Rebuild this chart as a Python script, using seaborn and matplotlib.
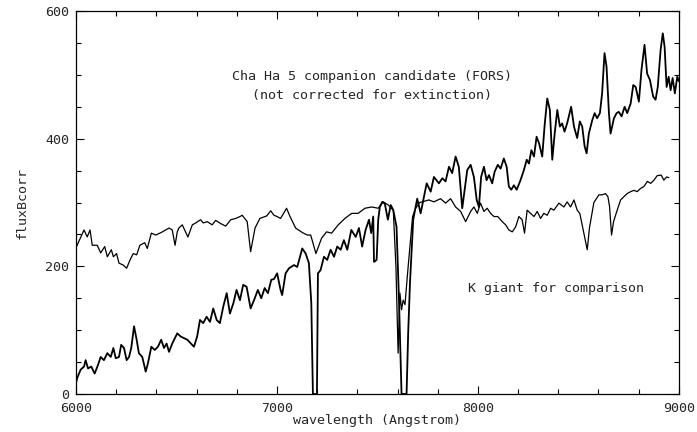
import numpy as np
import pandas as pd
import matplotlib
matplotlib.use("Agg")
import matplotlib.pyplot as plt
import seaborn as sns
from matplotlib.ticker import MultipleLocator


# ======================================================
# DATA
# ======================================================

# Cha Ha 5 companion candidate (FORS)
cand_wave = [
    6000, 6006, 6023, 6040, 6048, 6060, 6076, 6093, 6109, 6123,
    6139, 6156, 6173, 6186, 6198, 6214, 6225, 6239, 6252, 6264,
    6275, 6289, 6302, 6313, 6330, 6347, 6358, 6375, 6392, 6408,
    6424, 6438, 6451, 6463, 6479, 6496, 6504, 6521, 6554, 6587,
    6603, 6617, 6633, 6650, 6667, 6683, 6700, 6716, 6733, 6750,
    6766, 6783, 6799, 6816, 6832, 6849, 6869, 6886, 6905, 6922,
    6939, 6955, 6972, 6985, 7001, 7018, 7026, 7043, 7060, 7085,
    7101, 7126, 7143, 7159, 7171, 7179, 7199, 7204, 7217, 7234,
    7250, 7267, 7284, 7300, 7317, 7333, 7350, 7370, 7392, 7408,
    7424, 7441, 7458, 7469, 7479, 7483, 7496, 7504, 7512, 7524,
    7537, 7552, 7566, 7579, 7595, 7607, 7620, 7645, 7653, 7662,
    7678, 7698, 7715, 7745, 7765, 7781, 7806, 7823, 7839, 7856,
    7872, 7889, 7905, 7922, 7947, 7964, 7980, 7994, 8005, 8016,
    8030, 8043, 8055, 8071, 8083, 8099, 8113, 8129, 8143, 8154,
    8166, 8179, 8193, 8212, 8229, 8243, 8254, 8266, 8279, 8292,
    8304, 8320, 8332, 8345, 8358, 8370, 8382, 8395, 8408, 8419,
    8431, 8444, 8464, 8478, 8494, 8507, 8519, 8531, 8541, 8552,
    8569, 8581, 8593, 8607, 8618, 8630, 8640, 8652, 8660, 8677,
    8690, 8701, 8715, 8730, 8743, 8760, 8773, 8785, 8801, 8814,
    8829, 8842, 8856, 8872, 8884, 8895, 8909, 8920, 8929, 8939,
    8949, 8959, 8969, 8980, 8992, 9000,
]
cand_flux = [
    17, 25, 38, 43, 53, 40, 43, 32, 45, 58,
    53, 64, 58, 72, 56, 58, 77, 72, 53, 58,
    72, 106, 85, 64, 58, 35, 48, 74, 69, 74,
    85, 72, 79, 66, 79, 90, 95, 90, 85, 74,
    90, 116, 111, 121, 113, 134, 116, 111, 137, 158,
    126, 142, 163, 147, 171, 168, 134, 147, 163, 150,
    166, 158, 179, 180, 189, 163, 155, 189, 197, 202,
    199, 228, 220, 205, 142, 0, 0, 189, 194, 215,
    210, 226, 215, 231, 226, 241, 226, 257, 246, 260,
    231, 257, 273, 252, 278, 207, 210, 273, 293, 301,
    298, 273, 296, 288, 262, 150, 0, 0, 95, 174,
    273, 306, 283, 330, 317, 340, 330, 338, 333, 356,
    346, 372, 356, 291, 351, 359, 340, 304, 293, 340,
    356, 335, 343, 330, 348, 359, 353, 369, 356, 325,
    320, 327, 320, 335, 351, 367, 361, 382, 372, 403,
    393, 372, 421, 463, 445, 367, 408, 445, 419, 424,
    411, 424, 450, 419, 401, 427, 419, 388, 377, 408,
    429, 440, 432, 440, 471, 534, 513, 440, 408, 432,
    440, 442, 435, 450, 440, 455, 484, 481, 458, 508,
    547, 502, 492, 466, 461, 481, 539, 565, 544, 481,
    497, 476, 495, 471, 497, 490,
]

# K giant for comparison
kgiant_wave = [
    6000, 6040, 6056, 6070, 6081, 6106, 6123, 6143, 6156, 6176,
    6186, 6202, 6214, 6235, 6252, 6269, 6285, 6302, 6318, 6342,
    6355, 6375, 6397, 6424, 6463, 6479, 6493, 6504, 6512, 6529,
    6557, 6579, 6596, 6620, 6633, 6653, 6678, 6695, 6720, 6745,
    6770, 6795, 6816, 6827, 6852, 6869, 6891, 6915, 6949, 6969,
    6985, 7001, 7018, 7048, 7065, 7093, 7126, 7151, 7168, 7194,
    7222, 7247, 7272, 7305, 7338, 7372, 7404, 7438, 7471, 7504,
    7529, 7554, 7579, 7592, 7603, 7612, 7620, 7628, 7637, 7653,
    7675, 7690, 7711, 7756, 7781, 7814, 7839, 7864, 7889, 7914,
    7939, 7964, 7980, 7997, 8013, 8030, 8046, 8063, 8080, 8099,
    8121, 8138, 8154, 8171, 8188, 8204, 8220, 8232, 8245, 8262,
    8279, 8295, 8312, 8328, 8345, 8362, 8378, 8403, 8428, 8444,
    8461, 8478, 8494, 8507, 8522, 8535, 8544, 8555, 8566, 8577,
    8602, 8618, 8635, 8647, 8655, 8665, 8675, 8693, 8710, 8726,
    8743, 8760, 8776, 8793, 8809, 8826, 8843, 8860, 8876, 8892,
    8912, 8925, 8939, 8950,
]
kgiant_flux = [
    229, 257, 246, 257, 233, 233, 221, 231, 215, 226,
    215, 220, 205, 202, 197, 210, 220, 218, 233, 237,
    228, 252, 249, 253, 260, 257, 233, 254, 260, 265,
    246, 265, 268, 273, 268, 270, 265, 272, 267, 263,
    273, 275, 278, 280, 270, 223, 260, 275, 279, 287,
    280, 278, 275, 291, 278, 260, 253, 249, 249, 220,
    244, 254, 252, 265, 275, 283, 283, 291, 293, 291,
    301, 296, 288, 200, 64, 158, 132, 147, 140, 200,
    278, 291, 300, 304, 301, 306, 299, 306, 293, 286,
    270, 286, 293, 283, 299, 286, 291, 283, 278, 278,
    270, 265, 257, 254, 262, 278, 273, 252, 288, 283,
    278, 286, 275, 283, 280, 291, 288, 299, 293, 301,
    293, 304, 288, 283, 260, 240, 226, 260, 280, 300,
    312, 312, 314, 309, 294, 249, 270, 288, 304, 309,
    314, 317, 319, 317, 322, 325, 333, 330, 335, 342,
    343, 335, 340, 339,
]

x_ticks = [6000, 7000, 8000, 9000]
y_ticks = [0, 200, 400, 600]


# ======================================================
# PLOT
# ======================================================

sns.set_style("ticks")
plt.rcParams["font.family"] = ["DejaVu Sans Mono", "DejaVu Sans"]

FS = 9.6

cand = pd.DataFrame({"wave": cand_wave, "flux": cand_flux})
kg = pd.DataFrame({"wave": kgiant_wave, "flux": kgiant_flux})

fig = plt.figure(figsize=(6.97, 4.32), dpi=100)
ax = fig.add_axes([0.109, 0.088, 0.865, 0.8865])

sns.lineplot(data=kg, x="wave", y="flux", ax=ax, color="black",
             linewidth=0.9, sort=False, estimator=None)
sns.lineplot(data=cand, x="wave", y="flux", ax=ax, color="black",
             linewidth=1.3, sort=False, estimator=None)

ax.set_xlim(6000, 9000)
ax.set_ylim(0, 600)
ax.set_xticks(x_ticks)
ax.set_yticks(y_ticks)
ax.xaxis.set_minor_locator(MultipleLocator(200))
ax.yaxis.set_minor_locator(MultipleLocator(50))
ax.tick_params(which="both", direction="in", top=True, right=True,
               color="black", width=0.8, labelsize=FS)
ax.tick_params(axis="x", pad=6)
ax.tick_params(axis="y", pad=5)
ax.tick_params(which="major", length=6)
ax.tick_params(which="minor", length=3.5)

for s in ax.spines.values():
    s.set_linewidth(0.9)
    s.set_color("black")

ax.set_xlabel("wavelength (Angstrom)", fontsize=FS, labelpad=-1)
ax.set_ylabel("fluxBcorr", fontsize=FS, labelpad=12)

ax.text(7473, 497, "Cha Ha 5 companion candidate (FORS)",
        ha="center", va="center", fontsize=FS)
ax.text(7473, 468, "(not corrected for extinction)",
        ha="center", va="center", fontsize=FS)
ax.text(8388, 165, "K giant for comparison",
        ha="center", va="center", fontsize=FS)

fig.savefig("out.png", dpi=100)
